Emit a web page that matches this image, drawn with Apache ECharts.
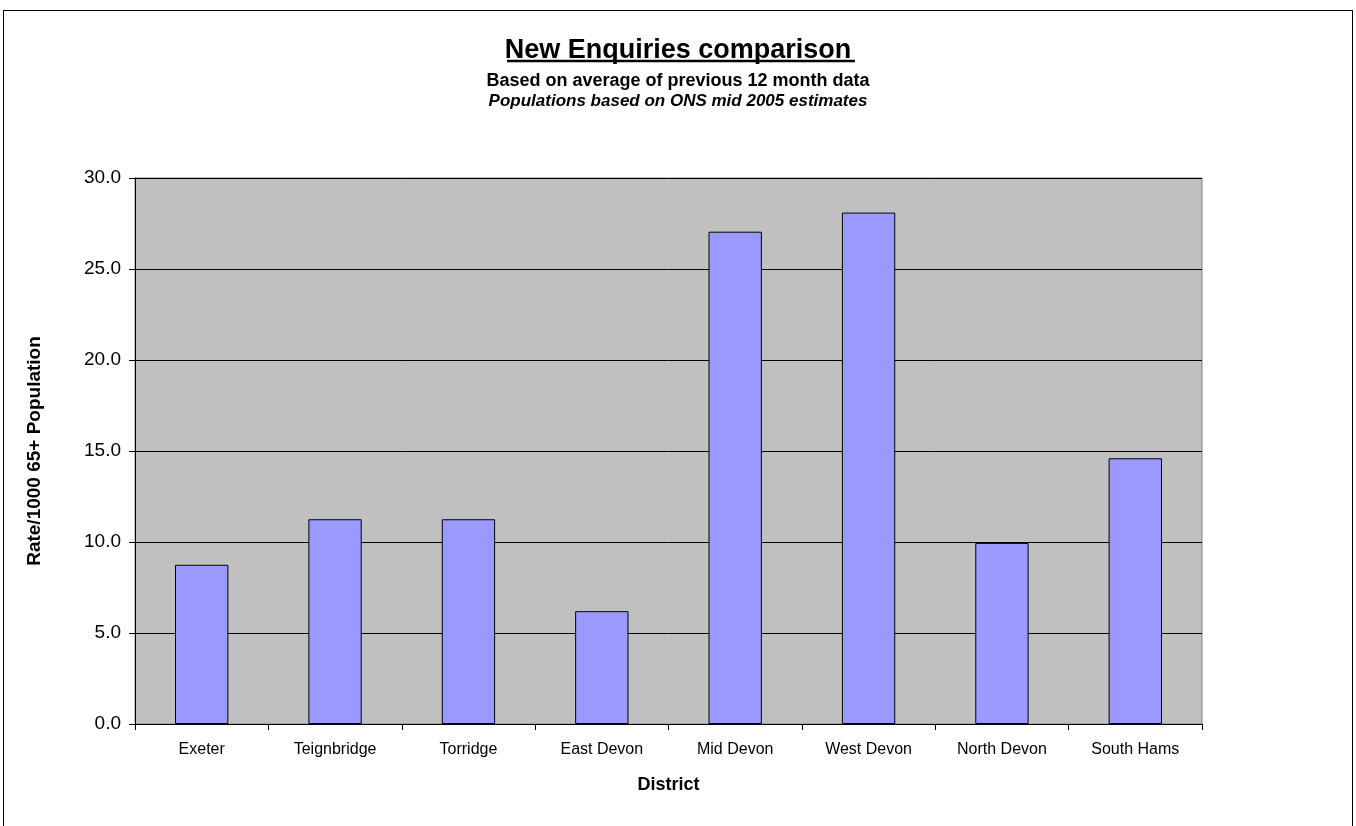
<!DOCTYPE html>
<html>
<head>
<meta charset="utf-8">
<script src="https://cdn.jsdelivr.net/npm/echarts@6/dist/echarts.min.js"></script>
<style>
  html, body { margin: 0; padding: 0; background: #fff; }
  #chart { width: 1356px; height: 826px; position: absolute; left: 0; top: 0; }
  #frame { position: absolute; left: 3px; top: 10px; width: 1348px; height: 840px; border: 1px solid #000; pointer-events: none; }
</style>
</head>
<body>
<div id="chart"></div>
<div id="frame"></div>
<script>
const categories = ['Exeter', 'Teignbridge', 'Torridge', 'East Devon', 'Mid Devon', 'West Devon', 'North Devon', 'South Hams'];
const rates = [8.75, 11.25, 11.25, 6.2, 27.05, 28.1, 9.95, 14.6];
const yTicks = { min: 0, max: 30, interval: 5 };

const chart = echarts.init(document.getElementById('chart'), null, { renderer: 'canvas' });
const font = 'Arial, "Liberation Sans", sans-serif';

chart.setOption({
  animation: false,
  backgroundColor: '#ffffff',
  title: [
    { text: 'New Enquiries comparison', left: 'center', top: 32,
      textStyle: { fontFamily: font, fontSize: 27, fontWeight: 'bold', color: '#000' } },
    { text: 'Based on average of previous 12 month data', left: 'center', top: 67,
      textStyle: { fontFamily: font, fontSize: 18, fontWeight: 'bold', color: '#000' } },
    { text: 'Populations based on ONS mid 2005 estimates', left: 'center', top: 88,
      textStyle: { fontFamily: font, fontSize: 17, fontWeight: 'bold', fontStyle: 'italic', color: '#000' } }
  ],
  graphic: [
    { type: 'line', shape: { x1: 507, y1: 61, x2: 855, y2: 61 }, style: { stroke: '#000', lineWidth: 2.5 } }
  ],
  grid: { left: 135, right: 154, top: 178, bottom: 102, show: true, backgroundColor: '#C0C0C0', borderColor: '#808080', borderWidth: 1 },
  xAxis: {
    type: 'category',
    data: categories,
    name: 'District',
    nameLocation: 'middle',
    nameGap: 52,
    nameTextStyle: { fontFamily: font, fontSize: 18, fontWeight: 'bold', color: '#000' },
    axisLine: { show: true, lineStyle: { color: '#000', width: 1 } },
    axisTick: { show: true, length: 6, alignWithLabel: false, lineStyle: { color: '#000' } },
    axisLabel: { fontFamily: font, fontSize: 16, color: '#000', margin: 18 },
    splitLine: { show: false }
  },
  yAxis: {
    type: 'value',
    min: yTicks.min, max: yTicks.max, interval: yTicks.interval,
    name: 'Rate/1000 65+ Population',
    nameLocation: 'middle',
    nameGap: 91,
    nameTextStyle: { fontFamily: font, fontSize: 19, fontWeight: 'bold', color: '#000' },
    axisLine: { show: true, lineStyle: { color: '#000', width: 1 } },
    axisTick: { show: true, length: 6, lineStyle: { color: '#000' } },
    axisLabel: { fontFamily: font, fontSize: 19, color: '#000', margin: 14,
      formatter: v => v.toFixed(1) },
    splitLine: { show: true, lineStyle: { color: '#000', width: 1 } }
  },
  series: [{
    type: 'bar',
    data: rates,
    barWidth: '40%',
    itemStyle: { color: '#9999FF', borderColor: '#000', borderWidth: 1 }
  }]
});
</script>
</body>
</html>
